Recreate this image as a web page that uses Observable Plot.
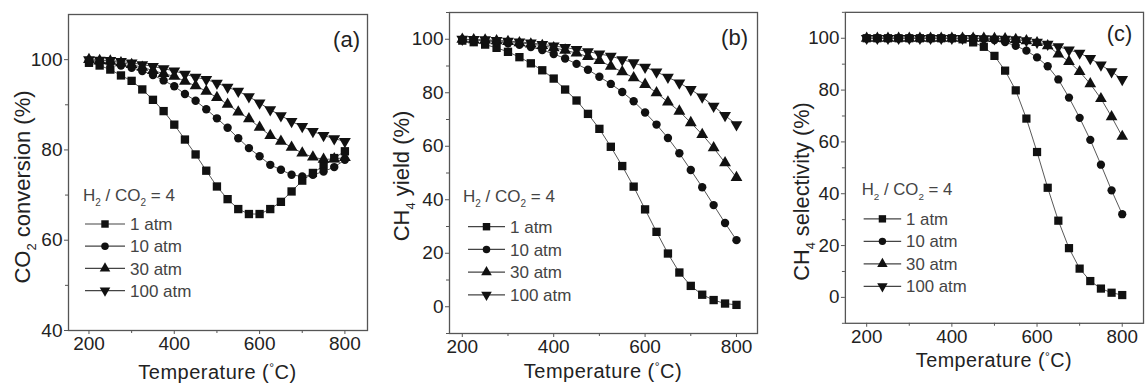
<!DOCTYPE html>
<html><head><meta charset="utf-8">
<script src="https://cdn.jsdelivr.net/npm/d3@7"></script>
<script src="https://cdn.jsdelivr.net/npm/@observablehq/plot@0.6"></script>
<style>
html,body{margin:0;padding:0;background:#fff;overflow:hidden;width:1145px;height:385px}
#wrap{position:relative;width:1145px;height:385px;overflow:hidden;font-family:'Liberation Sans',Arial,sans-serif}
.panel{position:absolute;top:0}
</style></head><body><div id="wrap"></div>
<script>
// ---- data ----
const temperatures = [200,225,250,275,300,325,350,375,400,425,450,475,500,525,550,575,600,625,650,675,700,725,750,775,800];
const pressures = ["1 atm","10 atm","30 atm","100 atm"];

// (a) CO2 conversion (%)
const convA_1   = [99.3,98.7,97.8,96.5,95.3,93.4,91.1,88.6,85.6,82.3,79.0,75.4,71.9,69.1,66.9,65.8,65.8,66.9,68.5,70.8,73.2,74.9,76.5,78.2,79.7];
const convA_10  = [99.8,99.5,99.2,98.7,98.2,97.5,96.6,95.4,94.1,92.4,90.9,89.0,87.0,84.9,82.6,80.4,78.6,76.7,75.6,74.5,74.1,74.5,75.2,76.2,77.8];
const convA_30  = [100,99.8,99.7,99.3,98.9,98.3,97.6,96.9,96.3,95.2,94.2,93.0,91.6,90.1,88.4,86.9,85.0,83.2,81.9,80.6,79.3,78.4,77.9,78.0,78.3];
const convA_100 = [100,99.9,99.8,99.6,99.3,98.9,98.5,98.0,97.5,96.8,96.1,95.6,94.8,93.9,93.0,91.8,90.4,88.9,87.6,86.3,85.2,84.1,83.2,82.5,81.9];

// (b) CH4 yield (%)
const yieldB_1   = [99.5,98.9,98.0,96.8,95.3,93.3,91.0,88.4,85.3,81.2,77.1,72.1,66.5,59.8,52.6,44.9,36.4,28.0,19.9,12.8,7.8,4.5,2.5,1.2,0.7];
const yieldB_10  = [99.9,99.7,99.4,99.0,98.5,97.9,97.1,96.0,94.5,92.8,90.8,88.6,86.0,83.3,80.3,76.8,72.6,68.1,63.1,57.4,51.1,44.7,38.0,31.3,24.9];
const yieldB_30  = [100,99.8,99.7,99.4,99.1,98.7,98.2,97.6,96.8,95.9,94.8,93.5,92.0,89.9,87.8,85.6,83.1,80.0,76.5,73.1,68.8,64.4,59.4,53.8,48.3];
const yieldB_100 = [100,99.9,99.8,99.6,99.3,99.0,98.6,98.1,97.5,96.9,96.2,95.4,94.5,93.7,92.4,91.2,89.6,87.8,85.8,83.7,81.2,78.4,75.0,71.5,68.1];

// (c) CH4 selectivity (%)
const selC_1   = [100,100,100,100,100,100,100,100,100,99.6,98.4,96.7,93.2,87.5,79.9,69.0,56.1,42.3,29.6,19.0,11.1,6.3,3.4,1.8,0.9];
const selC_10  = [100,100,100,100,100,100,100,100,100,100,100,99.7,99.3,98.5,97.1,95.2,92.6,89.2,84.1,77.1,69.3,60.8,51.2,41.3,32.1];
const selC_30  = [100,100,100,100,100,100,100,100,100,100,100,100,99.9,99.8,99.5,99.0,98.3,97.1,93.9,91.0,87.1,82.4,76.7,69.7,62.1];
const selC_100 = [100,100,100,100,100,100,100,100,100,100,100,99.9,99.8,99.7,99.5,99.1,98.5,97.7,96.8,95.5,94.3,92.2,89.7,87.1,84.1];

const xMajor = [200,400,600,800];
const xMinor = [300,500,700];

// ---- symbols ----
const sqrt3 = Math.sqrt(3);
const triangleDown = {
  draw(context, size) {
    const y = -Math.sqrt(size / (sqrt3 * 3));
    context.moveTo(0, -y * 2);
    context.lineTo(-sqrt3 * y, y);
    context.lineTo(sqrt3 * y, y);
    context.closePath();
  }
};
const seriesStyle = [
  {symbol: d3.symbolSquare, r: 4.7},
  {symbol: d3.symbolCircle, r: 4.2},
  {symbol: d3.symbolTriangle, r: 4.4},
  {symbol: triangleDown, r: 4.4}
];

const FONT = "'Liberation Sans', Arial, sans-serif";
const wrap = document.getElementById("wrap");

// rich text: parts like [{t:"CO"},{sub:"2"},{t:" conversion"}]
function rich(textSel, parts, basePx) {
  const shift = basePx * 0.28;
  let pending = 0;
  parts.forEach(part => {
    if (part.sub) {
      textSel.append("tspan").attr("font-size", Math.round(basePx * 0.6))
        .attr("dy", shift - pending).text(part.sub);
      pending = shift;
    } else {
      const ts = textSel.append("tspan").text(part.t);
      if (pending) ts.attr("dy", -pending);
      pending = 0;
    }
  });
}

function makePanel(cfg) {
  const frameW = cfg.width - cfg.marginLeft - cfg.marginRight;
  const marks = [];
  cfg.series.forEach((arr, i) => {
    const rows = temperatures.map((t, k) => ({t, v: arr[k], p: pressures[i]}));
    marks.push(Plot.line(rows, {x: "t", y: "v", stroke: "#555", strokeWidth: 1}));
  });
  cfg.series.forEach((arr, i) => {
    const rows = temperatures.map((t, k) => ({t, v: arr[k], p: pressures[i]}));
    marks.push(Plot.dot(rows, {x: "t", y: "v", symbol: seriesStyle[i].symbol, r: seriesStyle[i].r, fill: "#111", stroke: "none"}));
  });
  const chart = Plot.plot({
    width: cfg.width, height: cfg.height,
    marginLeft: cfg.marginLeft, marginRight: cfg.marginRight,
    marginTop: cfg.marginTop, marginBottom: cfg.marginBottom,
    style: {fontFamily: FONT, fontSize: "19px", color: "#222", background: "transparent", overflow: "visible"},
    x: {domain: cfg.xDomain},
    y: {domain: cfg.yDomain},
    marks: [
      Plot.axisX({ticks: xMajor, tickSize: 4, tickPadding: 2, fontSize: 19, label: null, stroke: "#555", fill: "#222"}),
      Plot.axisX({ticks: xMinor, tickSize: 3, label: null, stroke: "#555", fill: "none"}),
      Plot.axisY({ticks: cfg.yMajor, tickSize: 4, tickPadding: 2, fontSize: 19, label: null, stroke: "#555", fill: "#222"}),
      Plot.axisY({ticks: cfg.yMinor, tickSize: 3, label: null, stroke: "#555", fill: "none"}),
      ...marks,
      Plot.frame({stroke: "#555", strokeWidth: 1.3})
    ]
  });
  const div = document.createElement("div");
  div.className = "panel";
  div.style.left = cfg.left + "px";
  div.appendChild(chart);
  wrap.appendChild(div);

  const svg = d3.select(chart);
  const fx = cfg.marginLeft, fy = cfg.marginTop;
  // x label
  const xl = svg.append("text").attr("x", fx + frameW / 2).attr("y", cfg.xLabelY)
    .attr("text-anchor", "middle").attr("font-size", 20).attr("fill", "#222")
    .attr("letter-spacing", "0.5px");
  xl.append("tspan").text("Temperature (");
  xl.append("tspan").attr("font-size", 12).attr("dy", -7).text("°");
  xl.append("tspan").attr("dy", 7).text("C)");
  // y label
  const yl = svg.append("text").attr("transform", `translate(${cfg.yLabelX},${cfg.yLabelCY}) rotate(-90)`)
    .attr("text-anchor", "middle").attr("font-size", 22).attr("fill", "#222");
  rich(yl, cfg.yLabel, 22);
  // tag
  svg.append("text").attr("x", fx + frameW - cfg.tagInset).attr("y", fy + cfg.tagY)
    .attr("text-anchor", "end").attr("font-size", 22).attr("fill", "#222").text(cfg.tag);
  // legend
  const lg = svg.append("g").attr("transform", `translate(${fx + cfg.lgX},${fy + cfg.lgY})`)
    .attr("font-size", 17).attr("fill", "#444").attr("text-anchor", "start");
  const title = lg.append("text").attr("x", cfg.lgTitleDx).attr("y", 0).attr("text-anchor", "start");
  rich(title, [{t: "H"}, {sub: "2"}, {t: " / CO"}, {sub: "2"}, {t: " = 4"}], 17);
  pressures.forEach((p, i) => {
    const cy = cfg.lgRow0 + i * cfg.lgStep;
    lg.append("line").attr("x1", 0).attr("x2", cfg.lgLineW).attr("y1", cy).attr("y2", cy)
      .attr("stroke", "#444").attr("stroke-width", 1.2);
    lg.append("path").attr("transform", `translate(${cfg.lgLineW / 2},${cy})`)
      .attr("d", d3.symbol(seriesStyle[i].symbol, Math.PI * seriesStyle[i].r * seriesStyle[i].r * 0.8)())
      .attr("fill", "#111");
    lg.append("text").attr("x", cfg.lgLineW + 5).attr("y", cy).attr("dy", "0.36em")
      .attr("text-anchor", "start").text(p);
  });
}

makePanel({
  left: 0, width: 380, height: 385, marginLeft: 68, marginRight: 13, marginTop: 14, marginBottom: 55,
  xDomain: [152, 853], yDomain: [40, 110], yMajor: [40,60,80,100], yMinor: [50,70,90],
  series: [convA_1, convA_10, convA_30, convA_100],
  yLabel: [{t: "CO"}, {sub: "2"}, {t: " conversion (%)"}],
  yLabelX: 30, yLabelCY: 187, xLabelY: 379,
  tag: "(a)", tagInset: 7, tagY: 33,
  lgX: 17, lgY: 187, lgTitleDx: -2, lgRow0: 23, lgStep: 22.2, lgLineW: 40
});
makePanel({
  left: 380, width: 390, height: 385, marginLeft: 69, marginRight: 13, marginTop: 12, marginBottom: 52,
  xDomain: [172, 846], yDomain: [-10, 110], yMajor: [0,20,40,60,80,100], yMinor: [-10,10,30,50,70,90,110],
  series: [yieldB_1, yieldB_10, yieldB_30, yieldB_100],
  yLabel: [{t: "CH"}, {sub: "4"}, {t: " yield (%)"}],
  yLabelX: 29, yLabelCY: 176, xLabelY: 378,
  tag: "(b)", tagInset: 9, tagY: 33,
  lgX: 19, lgY: 190, lgTitleDx: -5, lgRow0: 24.7, lgStep: 22.7, lgLineW: 37
});
makePanel({
  left: 760, width: 390, height: 385, marginLeft: 86, marginRight: 2, marginTop: 12, marginBottom: 58,
  xDomain: [150, 850], yDomain: [-10, 110], yMajor: [0,20,40,60,80,100], yMinor: [-10,10,30,50,70,90,110],
  series: [selC_1, selC_10, selC_30, selC_100],
  yLabel: [{t: "CH"}, {sub: "4"}, {t: " selectivity (%)"}],
  yLabelX: 50, yLabelCY: 194, xLabelY: 372,
  tag: "(c)", tagInset: 11, tagY: 30,
  lgX: 19, lgY: 186, lgTitleDx: -2, lgRow0: 23.7, lgStep: 22.8, lgLineW: 38
});
</script></body></html>
